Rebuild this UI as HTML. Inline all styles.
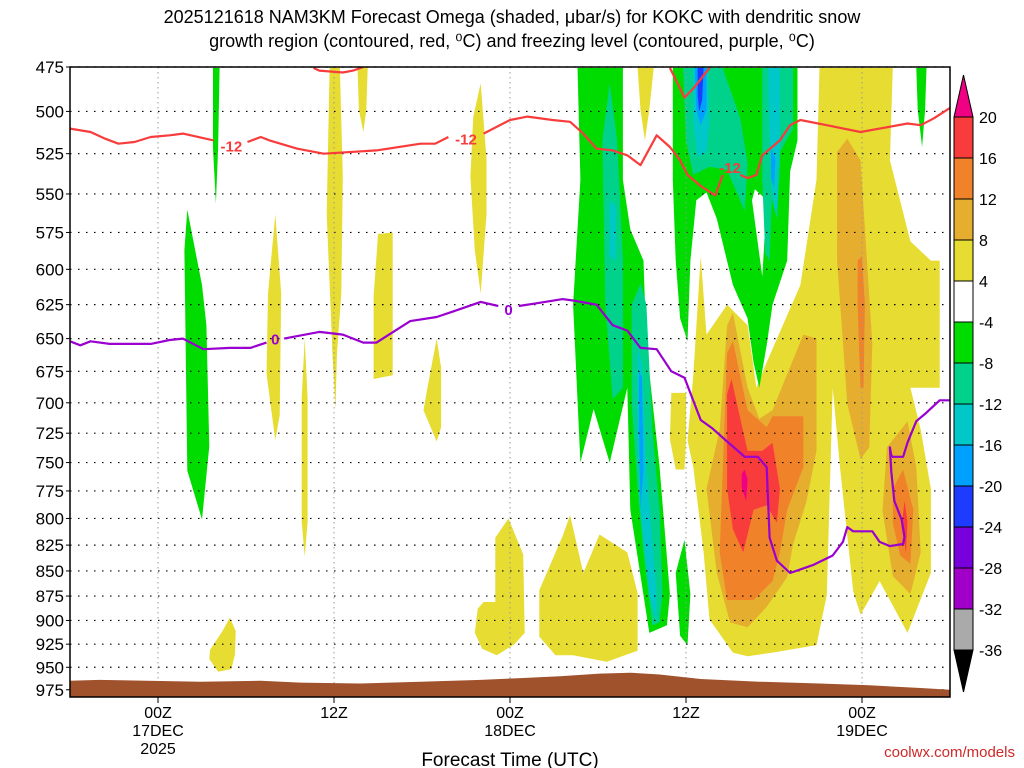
<!DOCTYPE html>
<html><head><meta charset="utf-8">
<style>
html,body{margin:0;padding:0;background:#fff;}
svg{display:block;font-family:"Liberation Sans",sans-serif;}
</style></head>
<body>
<svg id="chart" width="1024" height="768" viewBox="0 0 1024 768" xmlns="http://www.w3.org/2000/svg">
<defs><clipPath id="plotclip"><rect x="70" y="67" width="880" height="630"/></clipPath></defs>
<g font-size="18" text-anchor="middle" fill="#000">
<text x="512" y="23">2025121618 NAM3KM Forecast Omega (shaded, μbar/s) for KOKC with dendritic snow</text>
<text x="512" y="47">growth region (contoured, red, ⁰C) and freezing level (contoured, purple, ⁰C)</text>
</g>
<g id="fields" clip-path="url(#plotclip)"></g>
<g id="grid"></g>
<g id="terrain" clip-path="url(#plotclip)"></g>
<g id="contours" clip-path="url(#plotclip)"></g>
<rect x="70" y="67" width="880" height="630" fill="none" stroke="#000" stroke-width="1.5"/>
<g id="yaxis"></g>
<g id="xaxis"></g>
<text x="510" y="766" font-size="19" text-anchor="middle">Forecast Time (UTC)</text>
<text x="1015" y="757" font-size="15" text-anchor="end" fill="#d02828">coolwx.com/models</text>
<g id="colorbar"></g>
</svg>
<script>
// ---- axes data ----
const pressureTicks = [475,500,525,550,575,600,625,650,675,700,725,750,775,800,825,850,875,900,925,950,975];
const timeTickHours = [6,18,30,42,54];
const timeTickLine1 = ["00Z","12Z","00Z","12Z","00Z"];
const timeTickLine2 = ["17DEC","","18DEC","","19DEC"];
const timeTickLine3 = ["2025","","","",""];
const cbLevels = ["20","16","12","8","4","-4","-8","-12","-16","-20","-24","-28","-32","-36"];
const cbColors = ["#f83c3c","#f0822a","#e6ae2e","#e6dc32","#ffffff","#00dc00","#00d28c","#00c8c8","#00a0ff","#1e3cff","#7800dc","#a000c8","#aaaaaa"];

// ---- shaded omega polygons: [hour, pressure] ----
const yelSmallBL = [[10.9,897],[11.3,911],[11.25,936],[11,952],[10.1,955],[9.5,941],[9.55,931],[10.4,911]];
const yelCol14 = [[14,563],[14.4,617],[14.3,710],[14,731],[13.4,677],[13.5,617]];
const yelCol18 = [[17.7,475.5],[18.4,475.5],[18.6,539],[18.5,617],[18.2,662],[18.1,705],[17.9,662],[17.5,563]];
const yelThin16 = [[16,650],[16.2,696],[16.2,803],[16,836],[15.8,803],[15.8,696]];
const yelTop20 = [[19.6,475.5],[20.3,475.5],[20.2,499],[20,512],[19.7,499]];
const yelCol21 = [[21,576],[22,575],[22,678],[20.7,681],[20.7,619],[20.9,591]];
const yelDiamond25 = [[25,650],[25.3,672],[25.3,720],[25,732],[24.1,706],[24.4,686]];
const yelCol28 = [[28,484],[28.4,528],[28.4,563],[28,617],[27.6,587],[27.3,539],[27.5,503]];
const yelBot30 = [[29.9,800],[30.9,834],[31,913],[30.3,925],[29.1,937],[28.1,930],[27.6,913],[27.8,888],[28.2,881],[29,881],[29,818]];
const yelBot35 = [[32,869],[32.5,852],[33.6,816],[34.1,797],[35,852],[36.1,815],[38,832],[38.7,872],[38.7,932],[36.6,944],[34.3,937],[33.1,937],[32,917]];
const yelTop39 = [[38.7,475.5],[39.8,475.5],[39.5,499],[39.2,517],[38.9,499]];
const yelStrip41 = [[41,692],[42,692],[42,730],[41.9,756],[41.3,756],[40.9,730]];
const yelBig = [[42.1,731],[42.5,678],[43,591],[43.4,647],[44.8,625],[46.2,640],[46.8,688],[47.5,668],[49.8,611],[50.9,541],[51.1,475.5],[56.1,475.5],[55.9,529],[57.3,581],[58.7,594],[59.3,594],[59.3,688],[57.3,688],[58,722],[58.7,773],[58.7,852],[57.1,913],[55.2,860],[53.9,894],[53.4,870],[52.5,754],[52,688],[51.6,874],[50.9,926],[47.9,934],[46.2,938],[45.2,934],[43.6,899],[43.2,832],[42.5,754]];
const dyA = [[43.4,773],[44.3,722],[44.8,640],[45.2,631],[46.2,688],[47,713],[47.9,706],[50,647],[50.9,650],[50.9,740],[50.2,785],[49.3,824],[48.9,856],[47.5,886],[46.2,907],[45,902],[44.1,852]];
const dyB = [[52.3,524],[53,516],[53.9,529],[54.7,654],[54.5,737],[53.9,747],[53,701],[52.3,594]];
const dyC = [[55.7,737],[57.1,715],[57.7,754],[58,832],[57.3,873],[56.1,855],[55.4,793]];
const orA = [[44.3,832],[44.8,661],[45.2,652],[46.2,706],[47.5,720],[47.9,711],[50,711],[50,754],[48.9,792],[48.4,832],[47.9,860],[46.6,879],[44.8,879]];
const orB = [[53.7,594],[54,591],[54.2,625],[54.1,688],[53.9,688],[53.7,625]];
const orC = [[56.1,773],[56.8,756],[57.5,792],[57.3,843],[56.6,835],[56.1,804]];
const rdA = [[44.8,693],[45.1,681],[45.7,713],[46.2,740],[47.2,740],[47.9,733],[48.4,773],[48.2,804],[47.5,788],[46.6,792],[45.9,832],[45.2,810],[44.8,773]];
const rdB = [[56.9,784],[57.1,803],[57,832],[56.7,808]];
const mgA = [[46,756],[46.2,765],[46.1,784],[45.8,772],[45.8,760]];
const grLeft8 = [[8,560],[8.4,580],[9,611],[9.3,640],[9.5,736],[9,801],[8,757],[7.8,587]];
const grThin10 = [[9.75,475.5],[10.2,475.5],[10.1,522],[9.95,556],[9.75,522]];
const grBigL = [[34.6,475.5],[37.7,475.5],[37.7,541],[38.2,573],[39.1,594],[39.3,655],[40.2,754],[40.9,873],[40.7,905],[39.5,913],[38.2,792],[38,688],[36.8,750],[35.7,705],[34.8,750],[34.3,625],[34.8,541]];
const grCenter = [[41.1,475.5],[49.6,475.5],[49.6,517],[49.1,536],[48.9,594],[47.9,625],[47.5,655],[47,688],[46.6,668],[46.2,635],[45.2,611],[44.1,566],[43.4,549],[42.7,554],[42.3,594],[42.1,652],[41.6,635],[41.3,594],[41.1,541]];
const grBot42 = [[41.3,852],[41.9,820],[42.3,873],[42.1,926],[41.6,916]];
const grTop58 = [[57.7,475.5],[58.4,475.5],[58.3,499],[58.1,521],[57.8,499]];
const whNotch = [[46.7,547],[47.5,554],[47.2,605],[46.5,554]];
const tlA = [[36.3,517],[36.8,484],[37.3,517],[37.7,594],[37.7,688],[37,697],[36.5,625]];
const tlB = [[38.3,625],[38.9,610],[39.3,625],[39.7,722],[40.2,792],[40.4,873],[40.2,902],[39.7,905],[39.1,832],[38.7,773],[38.3,701]];
const tlC = [[41.8,475.5],[44.5,475.5],[45.7,504],[46.2,531],[46,561],[44.8,535],[43.6,533],[42.5,538],[42,517]];
const tlD = [[47.2,475.5],[49.3,475.5],[49.3,510],[48.4,524],[47.9,541],[47.7,594],[47.4,589],[47.2,541]];
const cyA = [[42.5,475.5],[43.5,475.5],[43.6,506],[43.4,524],[42.8,527],[42.5,506]];
const cyB = [[47.6,475.5],[48.4,475.5],[48.4,529],[48.2,566],[47.9,554],[47.7,517]];
const cyC = [[38.7,655],[39,670],[39.3,754],[40,873],[40,902],[39.5,873],[38.9,792],[38.7,722]];
const cyD = [[36.8,554],[37.2,558],[37.2,594],[36.8,591]];
const lbA = [[42.6,475.5],[43.4,475.5],[43.4,499],[43,508],[42.7,499]];
const lbB = [[47.8,522],[48.1,528],[48,546],[47.8,540]];
const lbC = [[38.8,675],[39,680],[39.1,756],[38.9,792],[38.8,724]];
const bdA = [[42.8,475.5],[43.2,475.5],[43.1,493.5],[42.9,500],[42.8,491]];

// ---- contour lines ----
const redLineA = [[0,510],[1.4,512],[2.4,516],[3.3,519],[4.4,518],[5.5,515],[6.8,514],[7.7,513],[9.8,517]];
const redLineB = [[12.1,518],[13,515],[13.6,517],[15.5,522],[17.3,525],[20.9,523],[23.9,519],[24.9,519],[25.8,515]];
const redLineC = [[28.2,513],[30,505],[31.2,503],[32.9,505],[34.1,506],[35,513],[35.9,522],[37,523],[38,526],[38.9,532],[40,514],[40.9,521],[41.6,529],[42.1,538],[43,545],[44,551],[44.5,538]];
const redLineD = [[45.7,538],[46.2,540],[46.8,538],[47.2,526],[48.4,517],[49.1,508],[49.8,505],[51.6,508],[53.9,512],[55.2,510],[57.1,507],[58,508],[58.9,504],[60,498]];
const redArc1 = [[16.6,475.5],[17,477],[18.6,478],[19.3,477],[20,475]];
const redArc2 = [[40.9,475.5],[41.9,492],[42.5,487],[43.6,475.5]];
const redLabels = [[11,520],[27,516],[45,533]];
const purpleLineA = [[0,652],[0.7,655],[1.4,652],[2.7,654],[5.5,654],[6.8,651],[7.7,650],[9.1,658],[10.9,657],[12.3,657],[13.4,653]];
const purpleLineB = [[14.6,650],[17,645],[18.6,647],[20,653],[20.9,653],[23.2,637],[25,634],[26.1,630],[28,623],[29.2,626]];
const purpleLineC = [[30.6,626],[31.8,624],[33.6,621],[34.3,622],[35.9,625],[37,640],[38,644],[38.9,657],[40,658],[41,675],[41.9,680],[43,714],[43.8,721],[44.8,732],[46,745],[46.9,745],[47.5,754],[47.7,818],[48.2,840],[49.1,852],[50.7,844],[52,835],[52.7,822],[53,808],[53.4,812],[54.7,812],[55.2,822],[55.9,826],[56.8,824],[56.9,817],[56.7,801],[56.2,784],[56,758],[55.9,737],[56,744],[56.1,745],[56.8,745],[57.1,733],[57.7,715],[58.4,708],[59.3,698],[60,698]];
const purpleLabels = [[14,650],[29.9,628]];
const terrainTop = [[0,965],[2,964],[8.9,966],[13,965],[15.7,967],[19.8,968],[23.9,966],[28,964],[30.7,962],[33.4,960],[36.1,957],[38.2,956],[40.2,958],[43,963],[47,966],[51.1,968],[54.5,970],[58,973],[60,975]];

// ---- scales ----
const X0=70, X1=950, HMAX=60, Y0=67, PTOP=475, YS=866;
function xs(h){return X0+h*(X1-X0)/HMAX;}
function ys(p){return Y0+YS*Math.log(p/PTOP);}
const NS="http://www.w3.org/2000/svg";
function mk(tag,parent){const e=document.createElementNS(NS,tag);parent.appendChild(e);return e;}
function ptsStr(arr){return arr.map(d=>xs(d[0]).toFixed(1)+","+ys(d[1]).toFixed(1)).join(" ");}

const fields=document.getElementById('fields');
function poly(arr,color,name){
  const e=mk('polygon',fields);
  e.setAttribute('points',ptsStr(arr));
  e.setAttribute('fill',color);
  
  
}
const Y="#e6dc32",DY="#e6ae2e",OR="#f0822a",RD="#f83c3c",MG="#f00082",GR="#00dc00",TL="#00d28c",CY="#00c8c8",LB="#00a0ff",BD="#1e3cff";
[yelSmallBL,yelCol14,yelCol18,yelThin16,yelTop20,yelCol21,yelDiamond25,yelCol28,yelBot30,yelBot35,yelTop39,yelStrip41,yelBig].forEach(a=>poly(a,Y,'omega-4-8-region'));
[dyA,dyB,dyC].forEach(a=>poly(a,DY,'omega-8-12-region'));
[orA,orB,orC].forEach(a=>poly(a,OR,'omega-12-16-region'));
[rdA,rdB].forEach(a=>poly(a,RD,'omega-16-20-region'));
poly(mgA,MG,'omega-above-20-region');
[grLeft8,grThin10,grBigL,grCenter,grBot42,grTop58].forEach(a=>poly(a,GR,'omega-neg4-neg8-region'));
poly(whNotch,"#ffffff",'omega-neutral-gap');
[tlA,tlB,tlC,tlD].forEach(a=>poly(a,TL,'omega-neg8-neg12-region'));
[cyA,cyB,cyC,cyD].forEach(a=>poly(a,CY,'omega-neg12-neg16-region'));
[lbA,lbB,lbC].forEach(a=>poly(a,LB,'omega-neg16-neg20-region'));
poly(bdA,BD,'omega-neg20-neg24-region');

// grid
const grid=document.getElementById('grid');
pressureTicks.forEach(p=>{
  const l=mk('line',grid);
  l.setAttribute('x1',X0);l.setAttribute('x2',X1);
  l.setAttribute('y1',ys(p));l.setAttribute('y2',ys(p));
  l.setAttribute('stroke','#000');l.setAttribute('stroke-width','1.2');l.setAttribute('stroke-dasharray','1.5 6.5');
  
  
});
timeTickHours.forEach(h=>{
  const l=mk('line',grid);
  l.setAttribute('x1',xs(h));l.setAttribute('x2',xs(h));
  l.setAttribute('y1',Y0);l.setAttribute('y2',697);
  l.setAttribute('stroke','#999');l.setAttribute('stroke-width','1');l.setAttribute('stroke-dasharray','1.5 3.5');
  
  
});

// terrain
const terr=document.getElementById('terrain');
const tp=mk('polygon',terr);
tp.setAttribute('points',ptsStr(terrainTop)+" "+xs(60)+",700 "+xs(0)+",700");
tp.setAttribute('fill','#a0522d');



// contours
const cont=document.getElementById('contours');
function line(arr,color,name){
  const e=mk('polyline',cont);
  e.setAttribute('points',ptsStr(arr));
  e.setAttribute('fill','none');e.setAttribute('stroke',color);e.setAttribute('stroke-width','2.2');e.setAttribute('stroke-linejoin','round');
  
  
}
[redLineA,redLineB,redLineC,redLineD,redArc1,redArc2].forEach(a=>line(a,'#f83c3c','dgz-minus12-contour'));
[purpleLineA,purpleLineB,purpleLineC].forEach(a=>line(a,'#9a00d0','freezing-level-contour'));
redLabels.forEach(d=>{
  const t=mk('text',cont);
  t.setAttribute('x',xs(d[0]));t.setAttribute('y',ys(d[1])+6);
  t.setAttribute('text-anchor','middle');t.setAttribute('font-size','15');t.setAttribute('font-weight','bold');t.setAttribute('fill','#f83c3c');
  t.textContent='-12';
  
  
});
purpleLabels.forEach(d=>{
  const t=mk('text',cont);
  t.setAttribute('x',xs(d[0]));t.setAttribute('y',ys(d[1])+6);
  t.setAttribute('text-anchor','middle');t.setAttribute('font-size','15');t.setAttribute('font-weight','bold');t.setAttribute('fill','#9a00d0');
  t.textContent='0';
  
  
});

// y axis
const ya=document.getElementById('yaxis');
pressureTicks.forEach(p=>{
  const t=mk('text',ya);
  t.setAttribute('x',64);t.setAttribute('y',ys(p)+6);t.setAttribute('text-anchor','end');t.setAttribute('font-size','17');
  t.textContent=p;
  
  
  const k=mk('line',ya);
  k.setAttribute('x1',66);k.setAttribute('x2',70);k.setAttribute('y1',ys(p));k.setAttribute('y2',ys(p));k.setAttribute('stroke','#000');
  
  
});
// x axis
const xa=document.getElementById('xaxis');
timeTickHours.forEach((h,i)=>{
  const k=mk('line',xa);
  k.setAttribute('x1',xs(h));k.setAttribute('x2',xs(h));k.setAttribute('y1',697);k.setAttribute('y2',703);k.setAttribute('stroke','#000');
  
  
  [timeTickLine1[i],timeTickLine2[i],timeTickLine3[i]].forEach((s,j)=>{
    if(!s)return;
    const t=mk('text',xa);
    t.setAttribute('x',xs(h));t.setAttribute('y',718+j*18);t.setAttribute('text-anchor','middle');t.setAttribute('font-size','16');
    t.textContent=s;
    
    
  });
});

// colorbar
const cb=document.getElementById('colorbar');
const CBX=954,CBW=19,CBT=117,CBH=41;
const tri=mk('polygon',cb);
tri.setAttribute('points',CBX+","+CBT+" "+(CBX+CBW)+","+CBT+" "+(CBX+CBW/2)+","+(CBT-42));
tri.setAttribute('fill','#f00082');tri.setAttribute('stroke','#000');


cbColors.forEach((c,i)=>{
  const r=mk('rect',cb);
  r.setAttribute('x',CBX);r.setAttribute('y',CBT+i*CBH);r.setAttribute('width',CBW);r.setAttribute('height',CBH);
  r.setAttribute('fill',c);r.setAttribute('stroke','#000');
  
  
});
const bt=CBT+cbColors.length*CBH;
const tri2=mk('polygon',cb);
tri2.setAttribute('points',CBX+","+bt+" "+(CBX+CBW)+","+bt+" "+(CBX+CBW/2)+","+(bt+42));
tri2.setAttribute('fill','#000');tri2.setAttribute('stroke','#000');


cbLevels.forEach((s,i)=>{
  const t=mk('text',cb);
  t.setAttribute('x',979);t.setAttribute('y',CBT+i*CBH+6);t.setAttribute('font-size','16');
  t.textContent=s;
  
  
});
</script>
</body></html>
